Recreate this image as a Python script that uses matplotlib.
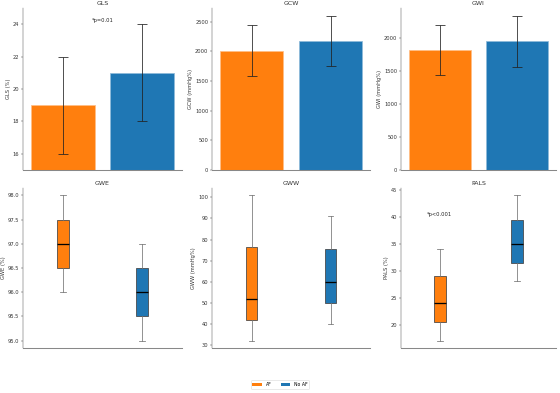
import matplotlib
matplotlib.use("Agg")
import matplotlib.pyplot as plt
from matplotlib.patches import Patch

groups = ["AF", "No AF"]
colors = ["#ff7f0e", "#1f77b4"]

# Bar panels: mean and error
bar_titles = ["GLS", "GCW", "GWI"]
bar_ylabels = ["GLS (%)", "GCW (mmHg%)", "GWI (mmHg%)"]
gls_mean = [19, 21]
gls_err = [3, 3]
gcw_mean = [2010, 2180]
gcw_err = [430, 420]
gwi_mean = [1815, 1950]
gwi_err = [382, 387]

# Box panels: whisker low, q1, median, q3, whisker high
box_titles = ["GWE", "GWW", "PALS"]
box_ylabels = ["GWE (%)", "GWW (mmHg%)", "PALS (%)"]
gwe_af = [96.0, 96.5, 97.0, 97.5, 98.0]
gwe_noaf = [95.0, 95.5, 96.0, 96.5, 97.0]
gww_af = [32, 42, 52, 76.5, 101]
gww_noaf = [40, 50, 60, 75.5, 91]
pals_af = [17, 20.5, 24, 29, 34]
pals_noaf = [28, 31.5, 35, 39.5, 44]

W, H = 560, 393
fig = plt.figure(figsize=(15, 15 * H / W), dpi=W / 15)

lefts = [23, 212, 401]
widths = [159, 158, 155]
rows = [(8, 170), (188, 348)]

def mk_ax(r, c):
    top, bot = rows[r]
    return fig.add_axes([lefts[c] / W, (H - bot) / H, widths[c] / W, (bot - top) / H])

def style(ax, title, ylabel):
    ax.set_title(title, fontsize=12, color="#333333")
    ax.set_ylabel(ylabel, fontsize=10, color="#333333")
    ax.spines["top"].set_visible(False)
    ax.spines["right"].set_visible(False)
    ax.spines["left"].set_color("#333333")
    ax.spines["bottom"].set_color("#888888")
    ax.spines["bottom"].set_linewidth(2)
    ax.set_xticks([])
    ax.tick_params(axis="y", labelsize=10, colors="#333333")
    ax.set_xlim(-0.5, 1.5)

bar_data = [(gls_mean, gls_err), (gcw_mean, gcw_err), (gwi_mean, gwi_err)]
for c, (m, e) in enumerate(bar_data):
    ax = mk_ax(0, c)
    ax.bar([0, 1], m, width=0.8, color=colors, edgecolor=["#ffbf87", "#8fbbd9"], linewidth=1.5)
    ax.errorbar([0, 1], m, yerr=e, fmt="none", ecolor="#222222", elinewidth=1.5, capsize=9, capthick=1.5)
    style(ax, bar_titles[c], bar_ylabels[c])
    if c == 0:
        ax.set_ylim(15, 25)
        ax.set_yticks([16, 18, 20, 22, 24])
        ax.text(0.5, 24.2, "*p=0.01", ha="center", va="center", fontsize=10, color="#222222")
    else:
        ax.set_ylim(0, None)

box_data = [(gwe_af, gwe_noaf), (gww_af, gww_noaf), (pals_af, pals_noaf)]
for c, (a, b) in enumerate(box_data):
    ax = mk_ax(1, c)
    stats = []
    for d, lab in zip((a, b), groups):
        stats.append(dict(whislo=d[0], q1=d[1], med=d[2], q3=d[3], whishi=d[4], label=lab, fliers=[]))
    bp = ax.bxp(stats, positions=[0, 1], widths=0.15, patch_artist=True, showfliers=False,
                boxprops=dict(edgecolor="#444444", linewidth=1.5),
                whiskerprops=dict(color="#777777", linewidth=1.5),
                capprops=dict(color="#777777", linewidth=1.5),
                medianprops=dict(color="black", linewidth=2.5))
    for patch, col in zip(bp["boxes"], colors):
        patch.set_facecolor(col)
    style(ax, box_titles[c], box_ylabels[c])
    if c == 0:
        ax.set_yticks([95.0, 95.5, 96.0, 96.5, 97.0, 97.5, 98.0])
        ax.set_yticklabels(["95.0", "95.5", "96.0", "96.5", "97.0", "97.5", "98.0"])
    if c == 2:
        ax.text(0, 40.5, "*p<0.001", ha="center", va="center", fontsize=10, color="#222222")

handles = [Patch(facecolor=colors[0], label="AF"), Patch(facecolor=colors[1], label="No AF")]
fig.legend(handles=handles, loc="lower center", bbox_to_anchor=(0.5, 0.005), ncol=2, fontsize=9,
           frameon=True, handlelength=2, handleheight=0.5)

fig.savefig("out.png", dpi=W / 15)
